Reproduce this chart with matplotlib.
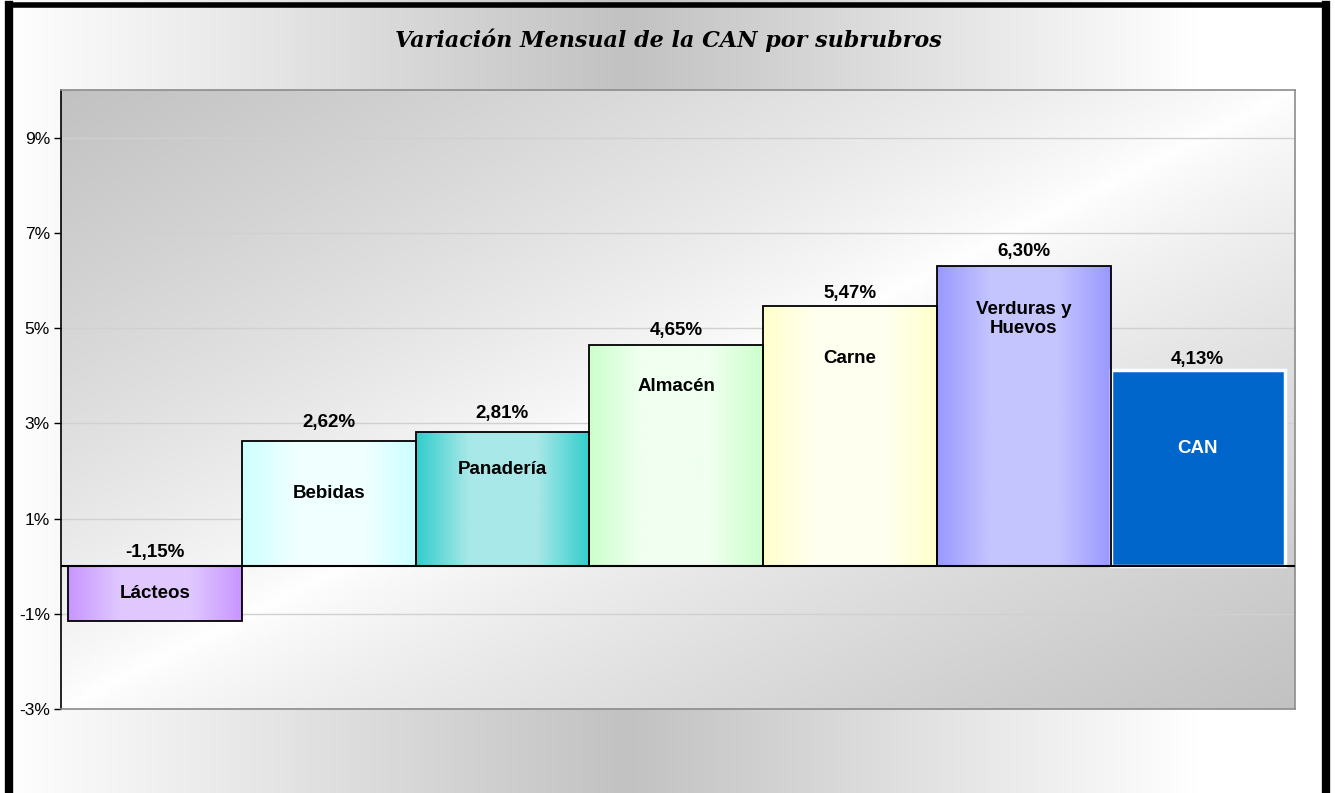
"""Variación mensual de la CAN por subrubros."""

import numpy as np
import matplotlib
matplotlib.use("Agg")
import matplotlib.pyplot as plt
from matplotlib.colors import LinearSegmentedColormap
from matplotlib.lines import Line2D

categories = ["Lácteos", "Bebidas", "Panadería", "Almacén", "Carne",
              "Verduras y\nHuevos", "CAN"]
values = [-1.15, 2.62, 2.81, 4.65, 5.47, 6.30, 4.13]
value_labels = ["-1,15%", "2,62%", "2,81%", "4,65%", "5,47%", "6,30%", "4,13%"]

# gradient edge / centre colours per bar (CAN is solid)
edge_colors = ["#c896ff", "#ccffff", "#33cccc", "#ccffcc", "#ffffcc", "#9999ff", "#0066cc"]
center_colors = ["#e0c8ff", "#f0ffff", "#a8e8e8", "#f0fff0", "#fffff0", "#c4c4ff", "#0066cc"]
text_colors = ["black"] * 6 + ["white"]

# label placement, pixels relative to the top of each bar
value_offsets = [14, 19, 19, 14, 12, 15, 10]
name_offsets = [-27, -52, -37, -42, -53, -53, -79]

W, H, DPI = 1335, 793, 100
fig = plt.figure(figsize=(W / DPI, H / DPI), dpi=DPI)

# figure background: horizontal grey gradient
bg = fig.add_axes([0, 0, 1, 1])
bg.set_axis_off()
bg_cmap = LinearSegmentedColormap.from_list(
    "bg", [(0, "#ffffff"), (0.47, "#c2c2c2"), (0.9, "#ffffff"), (1, "#ffffff")])
bg.imshow(np.linspace(0, 1, 400)[None, :], cmap=bg_cmap, aspect="auto",
          extent=[0, 1, 0, 1])
bg.set_xlim(0, 1)
bg.set_ylim(0, 1)

ax = fig.add_axes([61 / W, (H - 709) / H, (1295 - 61) / W, (709 - 90) / H])
ax.set_xlim(-0.54, 6.56)
ax.set_ylim(-3, 10)

# plot area background: grey at top-left and bottom-right, white across the middle
u, v = np.meshgrid(np.linspace(0, 1, 300), np.linspace(0, 1, 200))  # v: 0 = top
t = (u + v) / 2
shade = 1 - np.abs(2 * t - 1) ** 0.8
gray, white = 0.76, 1.0
img = gray + (white - gray) * shade
ax.imshow(np.dstack([img, img, img]), aspect="auto", extent=[-0.54, 6.56, -3, 10],
          zorder=0, origin="upper")

ax.set_yticks([-3, -1, 1, 3, 5, 7, 9])
ax.set_yticklabels([f"{t}%" for t in [-3, -1, 1, 3, 5, 7, 9]],
                   fontsize=12.5, family="Liberation Sans")
ax.set_xticks([])
ax.yaxis.grid(True, color="#d0d0d0", lw=1, zorder=1)
ax.set_axisbelow(True)
ax.tick_params(axis="y", length=5, width=1, color="black", pad=3)
for side in ["top", "right", "bottom"]:
    ax.spines[side].set_color("#8c8c8c")
    ax.spines[side].set_linewidth(1.2)
ax.spines["left"].set_color("black")
ax.spines["left"].set_linewidth(1.2)

x = np.arange(len(categories))
for i, (xi, val) in enumerate(zip(x, values)):
    if i == len(values) - 1:
        ax.bar(xi, val, width=1.0, color=edge_colors[i], edgecolor="white",
               linewidth=2.5, zorder=3)
    else:
        bars = ax.bar(xi, val, width=1.0, color="none", edgecolor="black",
                      linewidth=1.3, zorder=4)
        cmap = LinearSegmentedColormap.from_list(
            f"c{i}", [(0, edge_colors[i]), (0.3, center_colors[i]),
                      (0.7, center_colors[i]), (1, edge_colors[i])])
        grad = ax.imshow(np.linspace(0, 1, 200)[None, :], cmap=cmap, aspect="auto",
                         extent=[xi - 0.5, xi + 0.5, min(0, val), max(0, val)],
                         zorder=3)
        grad.set_clip_path(bars[0])

    top = max(val, 0)
    ax.annotate(value_labels[i], (xi, top), xytext=(0, value_offsets[i] * 0.72),
                textcoords="offset points", ha="center", va="center",
                fontsize=13.5, fontweight="bold", family="Liberation Sans", zorder=6)
    ax.annotate(categories[i], (xi, top), xytext=(0, name_offsets[i] * 0.72),
                textcoords="offset points", ha="center", va="center",
                fontsize=13.5, fontweight="bold", family="Liberation Sans",
                color=text_colors[i], linespacing=1.2, zorder=6)

ax.axhline(0, color="black", lw=1.5, zorder=5)
ax.set_xlim(-0.54, 6.56)
ax.set_ylim(-3, 10)

fig.text(668 / W, 1 - 40 / H, "Variación Mensual de la CAN por subrubros",
         ha="center", va="center", fontsize=16, fontweight="bold",
         style="italic", family="DejaVu Serif")

# thick black frame (left, top, right)
fig.add_artist(Line2D([9 / W, 9 / W], [0, 1 - 5 / H], color="black", lw=6))
fig.add_artist(Line2D([9 / W, 1326 / W], [1 - 5 / H, 1 - 5 / H], color="black", lw=4))
fig.add_artist(Line2D([1326 / W, 1326 / W], [0, 1 - 5 / H], color="black", lw=6))

fig.savefig("out.png", dpi=DPI)
